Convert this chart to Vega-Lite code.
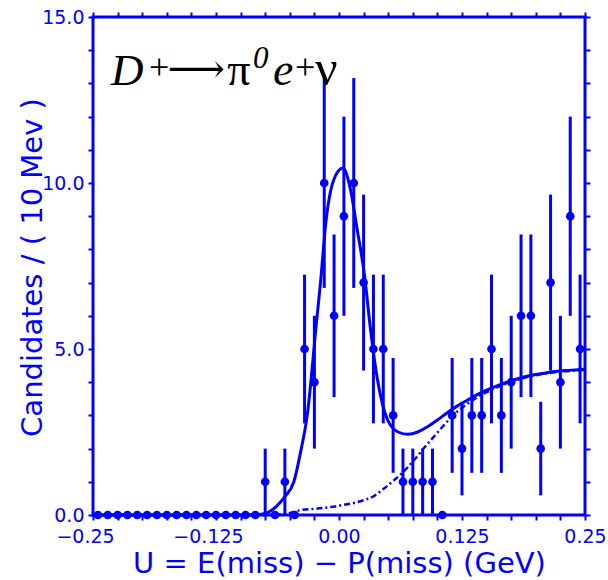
{
  "$schema": "https://vega.github.io/schema/vega-lite/v6.json",
  "autosize": {"type": "none"},
  "padding": {"left": 93, "top": 17, "right": 23, "bottom": 65},
  "width": 492,
  "height": 498,
  "background": "white",
  "config": {
    "view": {"stroke": "#0000ff", "strokeWidth": 3},
    "axis": {
      "domain": false,
      "grid": false,
      "zindex": 1,
      "tickOpacity": 1,
      "labelFont": "DejaVu Sans",
      "labelFontSize": 19,
      "labelColor": "#0000ff",
      "tickColor": "#0000ff",
      "tickWidth": 2,
      "titleFont": "DejaVu Sans",
      "titleFontSize": 29,
      "titleFontWeight": "normal",
      "titleColor": "#0000ff"
    }
  },
  "datasets": {
    "bins": [
      {"u": -0.245, "n": 0, "lo": 0, "hi": 0},
      {"u": -0.235, "n": 0, "lo": 0, "hi": 0},
      {"u": -0.225, "n": 0, "lo": 0, "hi": 0},
      {"u": -0.215, "n": 0, "lo": 0, "hi": 0},
      {"u": -0.205, "n": 0, "lo": 0, "hi": 0},
      {"u": -0.195, "n": 0, "lo": 0, "hi": 0},
      {"u": -0.185, "n": 0, "lo": 0, "hi": 0},
      {"u": -0.175, "n": 0, "lo": 0, "hi": 0},
      {"u": -0.165, "n": 0, "lo": 0, "hi": 0},
      {"u": -0.155, "n": 0, "lo": 0, "hi": 0},
      {"u": -0.145, "n": 0, "lo": 0, "hi": 0},
      {"u": -0.135, "n": 0, "lo": 0, "hi": 0},
      {"u": -0.125, "n": 0, "lo": 0, "hi": 0},
      {"u": -0.115, "n": 0, "lo": 0, "hi": 0},
      {"u": -0.105, "n": 0, "lo": 0, "hi": 0},
      {"u": -0.095, "n": 0, "lo": 0, "hi": 0},
      {"u": -0.085, "n": 0, "lo": 0, "hi": 0},
      {"u": -0.075, "n": 1, "lo": 0, "hi": 2},
      {"u": -0.065, "n": 0, "lo": 0, "hi": 0},
      {"u": -0.055, "n": 1, "lo": 0, "hi": 2},
      {"u": -0.045, "n": 0, "lo": 0, "hi": 0},
      {"u": -0.035, "n": 5, "lo": 2.76, "hi": 7.24},
      {"u": -0.025, "n": 4, "lo": 2, "hi": 6},
      {"u": -0.015, "n": 10, "lo": 6.84, "hi": 13.16},
      {"u": -0.005, "n": 6, "lo": 3.55, "hi": 8.45},
      {"u": 0.005, "n": 9, "lo": 6, "hi": 12},
      {"u": 0.015, "n": 10, "lo": 6.84, "hi": 13.16},
      {"u": 0.025, "n": 7, "lo": 4.35, "hi": 9.65},
      {"u": 0.035, "n": 5, "lo": 2.76, "hi": 7.24},
      {"u": 0.045, "n": 5, "lo": 2.76, "hi": 7.24},
      {"u": 0.055, "n": 3, "lo": 1.27, "hi": 4.73},
      {"u": 0.065, "n": 1, "lo": 0, "hi": 2},
      {"u": 0.075, "n": 1, "lo": 0, "hi": 2},
      {"u": 0.085, "n": 1, "lo": 0, "hi": 2},
      {"u": 0.095, "n": 1, "lo": 0, "hi": 2},
      {"u": 0.105, "n": 0, "lo": 0, "hi": 0},
      {"u": 0.115, "n": 3, "lo": 1.27, "hi": 4.73},
      {"u": 0.125, "n": 2, "lo": 0.59, "hi": 3.41},
      {"u": 0.135, "n": 3, "lo": 1.27, "hi": 4.73},
      {"u": 0.145, "n": 3, "lo": 1.27, "hi": 4.73},
      {"u": 0.155, "n": 5, "lo": 2.76, "hi": 7.24},
      {"u": 0.165, "n": 3, "lo": 1.27, "hi": 4.73},
      {"u": 0.175, "n": 4, "lo": 2, "hi": 6},
      {"u": 0.185, "n": 6, "lo": 3.55, "hi": 8.45},
      {"u": 0.195, "n": 6, "lo": 3.55, "hi": 8.45},
      {"u": 0.205, "n": 2, "lo": 0.59, "hi": 3.41},
      {"u": 0.215, "n": 7, "lo": 4.35, "hi": 9.65},
      {"u": 0.225, "n": 4, "lo": 2, "hi": 6},
      {"u": 0.235, "n": 9, "lo": 6, "hi": 12},
      {"u": 0.245, "n": 5, "lo": 2.76, "hi": 7.24}
    ],
    "fit": [
      {"u": -0.25, "y": 0}, {"u": -0.09, "y": 0}, {"u": -0.075, "y": 0.05},
      {"u": -0.0628, "y": 0.28}, {"u": -0.055, "y": 0.55}, {"u": -0.0459, "y": 1.0},
      {"u": -0.039, "y": 1.9}, {"u": -0.0323, "y": 3.0}, {"u": -0.0229, "y": 5.8},
      {"u": -0.0188, "y": 7.0}, {"u": -0.0134, "y": 8.8}, {"u": -0.0053, "y": 10.1},
      {"u": 0.004, "y": 10.45}, {"u": 0.0117, "y": 9.8}, {"u": 0.0185, "y": 8.6},
      {"u": 0.026, "y": 7.2}, {"u": 0.032, "y": 5.6}, {"u": 0.039, "y": 4.1},
      {"u": 0.0489, "y": 2.9}, {"u": 0.06, "y": 2.5}, {"u": 0.07, "y": 2.43},
      {"u": 0.08, "y": 2.5}, {"u": 0.09, "y": 2.66}, {"u": 0.1, "y": 2.86},
      {"u": 0.11, "y": 3.08}, {"u": 0.12, "y": 3.28}, {"u": 0.13, "y": 3.45},
      {"u": 0.14, "y": 3.62}, {"u": 0.15, "y": 3.76}, {"u": 0.16, "y": 3.88},
      {"u": 0.17, "y": 3.99}, {"u": 0.18, "y": 4.09}, {"u": 0.19, "y": 4.17},
      {"u": 0.2, "y": 4.23}, {"u": 0.21, "y": 4.28}, {"u": 0.22, "y": 4.32},
      {"u": 0.23, "y": 4.35}, {"u": 0.24, "y": 4.37}, {"u": 0.25, "y": 4.39}
    ],
    "bkg": [
      {"u": -0.25, "y": 0}, {"u": -0.065, "y": 0}, {"u": -0.05, "y": 0.06},
      {"u": -0.04, "y": 0.14}, {"u": -0.02, "y": 0.2}, {"u": 0.0, "y": 0.28},
      {"u": 0.02, "y": 0.4}, {"u": 0.036, "y": 0.58}, {"u": 0.045, "y": 0.78},
      {"u": 0.056, "y": 1.05}, {"u": 0.063, "y": 1.23}, {"u": 0.077, "y": 1.68},
      {"u": 0.087, "y": 2.04}, {"u": 0.097, "y": 2.38}, {"u": 0.105, "y": 2.65},
      {"u": 0.114, "y": 2.94}, {"u": 0.122, "y": 3.16}, {"u": 0.132, "y": 3.38},
      {"u": 0.14, "y": 3.54}, {"u": 0.15, "y": 3.7}, {"u": 0.16, "y": 3.84},
      {"u": 0.17, "y": 3.96}, {"u": 0.18, "y": 4.06}, {"u": 0.19, "y": 4.15},
      {"u": 0.2, "y": 4.21}, {"u": 0.21, "y": 4.26}, {"u": 0.22, "y": 4.3},
      {"u": 0.23, "y": 4.33}, {"u": 0.24, "y": 4.35}, {"u": 0.25, "y": 4.37}
    ]
  },
  "resolve": {"axis": {"x": "independent", "y": "independent"}},
  "layer": [
    {
      "data": {"name": "bkg"},
      "mark": {"type": "line", "color": "#0000ff", "strokeWidth": 2.5, "strokeDash": [6, 3, 2, 3], "interpolate": "monotone"},
      "encoding": {
        "x": {"field": "u", "type": "quantitative",
          "scale": {"domain": [-0.25, 0.25], "nice": false, "zero": false},
          "axis": {"orient": "bottom",
            "values": [-0.25, -0.225, -0.2, -0.175, -0.15, -0.125, -0.1, -0.075, -0.05, -0.025, 0, 0.025, 0.05, 0.075, 0.1, 0.125, 0.15, 0.175, 0.2, 0.225, 0.25],
            "ticks": true, "tickSize": 5,
            "labelPadding": 7, "labelFlush": false, "labelOverlap": false,
            "labelExpr": "abs(datum.value * 8 - round(datum.value * 8)) > 0.001 ? '' : (datum.value == 0 ? '0.00' : (datum.value < 0 ? '\u2212' : '') + format(abs(datum.value), '.3~f'))",
            "labelOffset": {"condition": {"test": "datum.value < 0", "value": -8}, "value": 0},
            "title": "U = E(miss) \u2212 P(miss) (GeV)",
            "titleX": 246, "titleY": 57, "titleAlign": "center", "titleBaseline": "alphabetic"}},
        "y": {"field": "y", "type": "quantitative",
          "scale": {"domain": [0, 15], "nice": false},
          "axis": {"orient": "left",
            "values": [0, 1, 2, 3, 4, 5, 6, 7, 8, 9, 10, 11, 12, 13, 14, 15],
            "ticks": true, "tickSize": 5,
            "labelPadding": 4,
            "labelExpr": "datum.value % 5 == 0 ? format(datum.value, '.1f') : ''",
            "labelOverlap": false,
            "title": "Candidates / ( 10 Mev )",
            "titleX": -52, "titleY": 250, "titleAngle": -90, "titleAlign": "center", "titleBaseline": "alphabetic"}}
      }
    },
    {
      "data": {"name": "fit"},
      "mark": {"type": "line", "color": "#0000ff", "strokeWidth": 3, "interpolate": "monotone"},
      "encoding": {
        "x": {"field": "u", "type": "quantitative",
          "axis": {"orient": "top", "values": [-0.25, -0.225, -0.2, -0.175, -0.15, -0.125, -0.1, -0.075, -0.05, -0.025, 0, 0.025, 0.05, 0.075, 0.1, 0.125, 0.15, 0.175, 0.2, 0.225, 0.25], "ticks": true, "tickSize": 5, "labels": false, "title": null}},
        "y": {"field": "y", "type": "quantitative",
          "axis": {"orient": "right", "values": [0, 1, 2, 3, 4, 5, 6, 7, 8, 9, 10, 11, 12, 13, 14, 15], "ticks": true, "tickSize": 5, "labels": false, "title": null}}
      }
    },
    {
      "data": {"name": "bins"},
      "mark": {"type": "rule", "color": "#0000ff", "strokeWidth": 3},
      "encoding": {
        "x": {"field": "u", "type": "quantitative", "axis": null},
        "y": {"field": "lo", "type": "quantitative", "axis": null},
        "y2": {"field": "hi"}
      }
    },
    {
      "data": {"name": "bins"},
      "mark": {"type": "circle", "color": "#0000ff", "size": 75, "opacity": 1},
      "encoding": {
        "x": {"field": "u", "type": "quantitative", "axis": null},
        "y": {"field": "n", "type": "quantitative", "axis": null}
      }
    },
    {
      "data": {"values": [{}]},
      "mark": {"type": "text", "font": "Liberation Serif", "fontSize": 45, "fontStyle": "italic", "align": "left", "baseline": "alphabetic", "color": "black"},
      "encoding": {"x": {"datum": -0.2317, "type": "quantitative", "axis": null}, "y": {"datum": 12.95, "type": "quantitative", "axis": null}, "text": {"value": "D"}}
    },
    {
      "data": {"values": [{}]},
      "mark": {"type": "text", "font": "Liberation Serif", "fontSize": 36, "align": "left", "baseline": "alphabetic", "color": "black"},
      "encoding": {"x": {"datum": -0.1931, "type": "quantitative", "axis": null}, "y": {"datum": 13.12, "type": "quantitative", "axis": null}, "text": {"value": "+"}}
    },
    {
      "data": {"values": [{}]},
      "mark": {"type": "text", "font": "DejaVu Serif", "fontSize": 40, "align": "left", "baseline": "alphabetic", "color": "black"},
      "encoding": {"x": {"datum": -0.1744, "type": "quantitative", "axis": null}, "y": {"datum": 13.05, "type": "quantitative", "axis": null}, "text": {"value": "\u27f6"}}
    },
    {
      "data": {"values": [{}]},
      "mark": {"type": "text", "font": "Liberation Serif", "fontSize": 46, "align": "left", "baseline": "alphabetic", "color": "black"},
      "encoding": {"x": {"datum": -0.1135, "type": "quantitative", "axis": null}, "y": {"datum": 12.95, "type": "quantitative", "axis": null}, "text": {"value": "\u03c0"}}
    },
    {
      "data": {"values": [{}]},
      "mark": {"type": "text", "font": "Liberation Serif", "fontSize": 31, "fontStyle": "italic", "align": "left", "baseline": "alphabetic", "color": "black"},
      "encoding": {"x": {"datum": -0.0874, "type": "quantitative", "axis": null}, "y": {"datum": 13.46, "type": "quantitative", "axis": null}, "text": {"value": "0"}}
    },
    {
      "data": {"values": [{}]},
      "mark": {"type": "text", "font": "Liberation Serif", "fontSize": 46, "fontStyle": "italic", "align": "left", "baseline": "alphabetic", "color": "black"},
      "encoding": {"x": {"datum": -0.0671, "type": "quantitative", "axis": null}, "y": {"datum": 12.95, "type": "quantitative", "axis": null}, "text": {"value": "e"}}
    },
    {
      "data": {"values": [{}]},
      "mark": {"type": "text", "font": "Liberation Serif", "fontSize": 36, "align": "left", "baseline": "alphabetic", "color": "black"},
      "encoding": {"x": {"datum": -0.0447, "type": "quantitative", "axis": null}, "y": {"datum": 13.12, "type": "quantitative", "axis": null}, "text": {"value": "+"}}
    },
    {
      "data": {"values": [{}]},
      "mark": {"type": "text", "font": "Liberation Serif", "fontSize": 50, "align": "left", "baseline": "alphabetic", "color": "black"},
      "encoding": {"x": {"datum": -0.0244, "type": "quantitative", "axis": null}, "y": {"datum": 12.95, "type": "quantitative", "axis": null}, "text": {"value": "\u03bd"}}
    }
  ]
}
